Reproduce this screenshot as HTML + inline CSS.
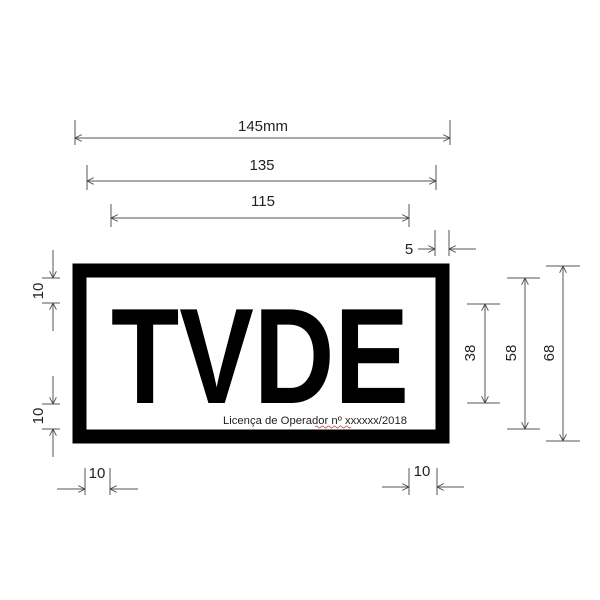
<!DOCTYPE html>
<html><head><style>html,body{margin:0;padding:0;background:#fff}svg{display:block}</style></head>
<body>
<svg width="600" height="600" viewBox="0 0 600 600" xmlns="http://www.w3.org/2000/svg" font-family="Liberation Sans, sans-serif">
<defs>
<marker id="a" viewBox="0 0 10 10" refX="10" refY="5" markerWidth="7" markerHeight="7" orient="auto-start-reverse" markerUnits="userSpaceOnUse">
<path d="M0,0 L10,5 L0,10" fill="none" stroke="#444" stroke-width="1.2"/>
</marker>
</defs>
<rect x="79.5" y="270.5" width="363" height="166" fill="none" stroke="#000" stroke-width="14"/>
<text x="111" y="403" font-size="136" font-weight="bold" textLength="298" lengthAdjust="spacingAndGlyphs">TVDE</text>
<text x="223" y="424" font-size="11" textLength="184" lengthAdjust="spacingAndGlyphs" fill="#222">Licença de Operador nº xxxxxx/2018</text>
<path d="M315 427 q1.5 -2 3 0 t3 0 t3 0 t3 0 t3 0 t3 0 t3 0 t3 0 t3 0 t3 0 t3 0 t3 0" fill="none" stroke="#d33" stroke-width="0.7"/>
<g stroke="#555" stroke-width="1" fill="none">
<!-- top dims -->
<line x1="75" y1="120" x2="75" y2="145"/><line x1="450" y1="120" x2="450" y2="145"/>
<line x1="75" y1="138" x2="450" y2="138" marker-start="url(#a)" marker-end="url(#a)"/>
<line x1="87" y1="165" x2="87" y2="190"/><line x1="436" y1="165" x2="436" y2="190"/>
<line x1="87" y1="181" x2="436" y2="181" marker-start="url(#a)" marker-end="url(#a)"/>
<line x1="111" y1="204" x2="111" y2="227"/><line x1="409" y1="204" x2="409" y2="227"/>
<line x1="111" y1="218" x2="409" y2="218" marker-start="url(#a)" marker-end="url(#a)"/>
<!-- 5 -->
<line x1="435" y1="230" x2="435" y2="256"/><line x1="449" y1="230" x2="449" y2="256"/>
<line x1="418" y1="249" x2="435" y2="249" marker-end="url(#a)"/>
<line x1="476" y1="249" x2="449" y2="249" marker-end="url(#a)"/>
<!-- left 10s -->
<line x1="53" y1="250" x2="53" y2="278" marker-end="url(#a)"/>
<line x1="42" y1="278" x2="60" y2="278"/>
<line x1="42" y1="303" x2="60" y2="303"/>
<line x1="53" y1="331" x2="53" y2="303" marker-end="url(#a)"/>
<line x1="53" y1="376" x2="53" y2="404" marker-end="url(#a)"/>
<line x1="42" y1="404" x2="60" y2="404"/>
<line x1="42" y1="429" x2="60" y2="429"/>
<line x1="53" y1="457" x2="53" y2="429" marker-end="url(#a)"/>
<!-- bottom 10s -->
<line x1="85" y1="468" x2="85" y2="495"/><line x1="110" y1="468" x2="110" y2="495"/>
<line x1="57" y1="489" x2="85" y2="489" marker-end="url(#a)"/>
<line x1="138" y1="489" x2="110" y2="489" marker-end="url(#a)"/>
<line x1="409" y1="468" x2="409" y2="495"/><line x1="437" y1="468" x2="437" y2="495"/>
<line x1="382" y1="487" x2="409" y2="487" marker-end="url(#a)"/>
<line x1="464" y1="487" x2="437" y2="487" marker-end="url(#a)"/>
<!-- right verticals -->
<line x1="467" y1="304" x2="500" y2="304"/><line x1="467" y1="403" x2="500" y2="403"/>
<line x1="485" y1="304" x2="485" y2="403" marker-start="url(#a)" marker-end="url(#a)"/>
<line x1="507" y1="278" x2="540" y2="278"/><line x1="507" y1="429" x2="540" y2="429"/>
<line x1="525" y1="278" x2="525" y2="429" marker-start="url(#a)" marker-end="url(#a)"/>
<line x1="546" y1="266" x2="580" y2="266"/><line x1="546" y1="441" x2="580" y2="441"/>
<line x1="563" y1="266" x2="563" y2="441" marker-start="url(#a)" marker-end="url(#a)"/>
</g>
<g font-size="15" fill="#222" text-anchor="middle">
<text x="263" y="131">145mm</text>
<text x="262" y="170">135</text>
<text x="263" y="206">115</text>
<text x="409" y="254">5</text>
<text x="97" y="478">10</text>
<text x="422" y="476">10</text>
<text transform="translate(43,291) rotate(-90)">10</text>
<text transform="translate(43,416) rotate(-90)">10</text>
<text transform="translate(475,353) rotate(-90)">38</text>
<text transform="translate(516,353) rotate(-90)">58</text>
<text transform="translate(554,353) rotate(-90)">68</text>
</g>
</svg>
</body></html>
